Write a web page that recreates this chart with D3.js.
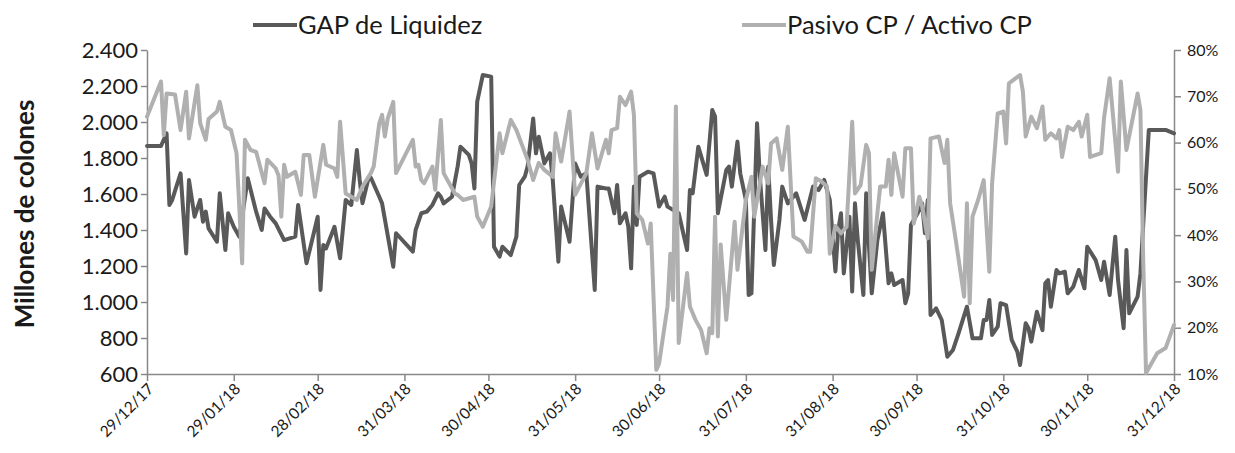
<!DOCTYPE html>
<html><head><meta charset="utf-8">
<script src="https://cdn.jsdelivr.net/npm/d3@7"></script>
<style>body{margin:0;background:#fff} svg{display:block}</style>
</head><body>
<svg id="chart" width="1235" height="453"></svg>
<script>
// ---------- DATA ----------
const startDate = "2017-12-29";
const tickDates = ["2017-12-29","2018-01-29","2018-02-28","2018-03-31","2018-04-30","2018-05-31",
  "2018-06-30","2018-07-31","2018-08-31","2018-09-30","2018-10-31","2018-11-30","2018-12-31"];
const leftTicks = [600,800,1000,1200,1400,1600,1800,2000,2200,2400];
const rightTicks = [10,20,30,40,50,60,70,80];
const seriesNames = ["GAP de Liquidez","Pasivo CP / Activo CP"];
const yTitle = "Millones de colones";

// [days since startDate, millones de colones]
const gapData = [[0,1867],[5,1867],[7,1937],[8,1539],[9,1567],[12,1715],[14,1270],[15,1678],[17,1474],[19,1567],
[20,1446],[21,1502],[22,1409],[25,1335],[26,1604],[28,1289],[29,1493],[31,1418],[33,1363],[36,1687],[39,1502],
[41,1400],[42,1520],[44,1474],[46,1437],[49,1344],[53,1363],[54,1539],[57,1215],[61,1474],[62,1067],[63,1317],
[64,1298],[67,1418],[69,1243],[71,1567],[73,1539],[75,1844],[76,1678],[77,1548],[79,1678],[80,1690],[83,1585],
[84,1548],[88,1196],[89,1382],[95,1280],[96,1400],[98,1493],[100,1502],[102,1539],[104,1604],[105,1585],[106,1548],
[109,1585],[111,1752],[112,1863],[115,1817],[116,1770],[117,1631],[118,2113],[120,2261],[123,2252],[124,1307],
[126,1252],[127,1307],[130,1261],[132,1363],[133,1650],[135,1696],[136,1752],[138,2020],[139,1826],[140,1918],
[142,1770],[144,1826],[145,1678],[147,1224],[148,1530],[151,1335],[153,1770],[155,1696],[157,1715],[160,1067],
[161,1641],[164,1631],[165,1631],[167,1493],[168,1650],[169,1437],[171,1493],[172,1418],[173,1187],[174,1641],
[175,1428],[176,1696],[179,1724],[181,1715],[183,1530],[185,1585],[186,1530],[190,1493],[193,1289],[194,1622],
[195,1604],[197,1863],[200,1706],[202,2067],[203,2030],[204,1493],[207,1733],[208,1752],[209,1641],[211,1891],
[212,1715],[214,1567],[215,1039],[216,1048],[218,1993],[219,1696],[221,1289],[222,1752],[223,1456],[224,1206],
[226,1456],[227,1641],[229,1548],[232,1604],[235,1456],[238,1641],[240,1622],[242,1678],[244,1567],[246,1170],
[247,1400],[248,1493],[249,1159],[251,1474],[252,1058],[253,1548],[254,1344],[256,1039],[257,1604],[258,1307],
[259,1048],[261,1344],[263,1493],[265,1104],[266,1159],[267,1094],[270,1122],[271,993],[272,1048],[273,1428],
[276,1511],[277,1548],[278,1382],[279,1567],[280,928],[282,965],[284,900],[286,696],[288,733],[290,826],[293,974],
[295,798],[298,798],[299,900],[300,900],[301,1011],[302,817],[304,863],[305,993],[307,983],[309,789],[311,724],
[312,650],[314,882],[315,854],[316,780],[318,946],[320,844],[321,1104],[322,1122],[323,974],[325,1178],[326,1159],
[328,1168],[329,1048],[331,1085],[333,1178],[335,1076],[336,1307],[339,1233],[341,1122],[342,1224],[344,1039],
[346,1363],[347,1122],[349,854],[350,1289],[351,937],[354,1030],[355,1159],[356,1430],[358,1956],[364,1956],[367,1937]];

// [days since startDate, Pasivo CP / Activo CP in %]
const ratioData = [[0,65.6],[5,73.2],[6,61.6],[7,70.6],[10,70.4],[12,62.7],[14,71],[15,60.9],[18,72.4],[19,64.2],
[21,60.6],[22,65.1],[25,66.7],[26,68.8],[28,63.4],[30,62.7],[32,57.7],[34,33.9],[35,60.6],[37,58.4],[39,58],
[42,51.2],[43,56.3],[46,54.4],[47,52.9],[48,44],[49,55.2],[50,52.6],[53,53.7],[55,48.7],[56,57.3],[58,57.3],
[60,48.3],[63,59.5],[64,55.2],[67,54.4],[68,52.6],[69,64.5],[71,49],[73,48.3],[75,47.6],[77,50.5],[80,53.4],
[81,54.8],[83,64.2],[84,66],[85,61.3],[86,65.1],[88,68.8],[89,53.4],[95,60.6],[96,54.8],[97,55.2],[98,51.9],
[99,51.2],[102,54.8],[103,49.8],[105,64.9],[106,53.4],[110,49],[111,48.7],[113,47.6],[117,48.3],[118,44],
[120,41.8],[123,46.2],[126,62],[127,57.7],[130,64.9],[132,62.7],[134,59.5],[136,56.3],[138,51.9],[140,55.6],
[142,54.1],[145,52.6],[146,62],[148,55.9],[151,66.7],[153,48.7],[157,53.4],[159,62],[161,54.4],[164,60.6],
[165,57.7],[166,62.7],[168,63.1],[169,69.9],[171,68.1],[173,71],[174,66],[175,44.7],[177,43.3],[179,38.2],
[180,42.5],[182,10.9],[183,12.3],[186,24.6],[187,36],[188,26],[189,67.8],[190,16.7],[193,31.8],[194,24.6],
[196,21.7],[198,19.5],[200,14.5],[201,19.9],[202,18.8],[203,44],[204,18.1],[205,38],[207,21.7],[210,42.9],
[211,32.5],[214,47.6],[216,52.6],[217,44],[220,54.8],[222,51.2],[223,59.8],[225,60.9],[227,54.1],[229,63.4],
[231,39.7],[234,38.6],[236,36.4],[237,36.4],[239,52.3],[241,51.6],[243,50.5],[244,36],[246,42],[248,40.4],
[250,41.8],[252,64.5],[253,49],[255,50.8],[257,59.5],[258,57.7],[259,32.5],[261,44.7],[262,50.5],[264,50.5],
[265,56.3],[266,48.7],[267,57.7],[270,48.3],[271,58.8],[273,58.8],[274,42.5],[276,48.3],[277,46.2],[279,39.3],
[280,60.9],[283,61.3],[285,55.6],[286,60.6],[287,46.9],[289,39],[292,26.7],[293,46.9],[294,25.3],[295,44],
[297,47.6],[299,51.9],[301,32.1],[302,51.2],[304,66.3],[306,66.7],[307,59.8],[308,72.8],[312,74.6],[313,71],
[314,61.3],[316,65.6],[318,63.1],[320,67.8],[321,60.6],[323,62],[325,60.9],[326,62.7],[327,56.9],[329,63.4],
[331,62.7],[333,64.5],[334,61.3],[336,66],[337,56.9],[341,57.7],[342,65.3],[344,73.9],[347,53.7],[348,73.2],
[350,58.4],[354,70.6],[355,67],[356,34.6],[357,10.2],[361,14.5],[364,15.6],[367,20.6]];

// ---------- CHART ----------
const colors = ["#595959", "#b0b0b0"];
const axisColor = "#888888";
const textColor = "#1a1a1a";
const font = "Lato, 'Liberation Sans', sans-serif";

const margin = {left:147, right:1174, top:50, bottom:374};
const svg = d3.select("#chart");

const parseDay = d3.utcParse("%Y-%m-%d");
const t0 = parseDay(startDate);
const dateOf = d => d3.utcDay.offset(t0, d);

const x = d3.scaleUtc()
  .domain([t0, parseDay(tickDates[tickDates.length-1])])
  .range([margin.left, margin.right]);
const yL = d3.scaleLinear().domain([600, 2400]).range([margin.bottom, margin.top]);
const yR = d3.scaleLinear().domain([10, 80]).range([margin.bottom, margin.top]);

const loc = d3.formatLocale({decimal:",", thousands:".", grouping:[3], currency:["",""]});
const fmtL = loc.format(",d");

// left axis
const gL = svg.append("g").attr("transform", `translate(${margin.left},0)`)
  .call(d3.axisLeft(yL).tickValues(leftTicks).tickFormat(fmtL).tickSize(6).tickPadding(3).tickSizeOuter(0));
gL.selectAll("text").attr("font-family", font).attr("font-size", 22).attr("fill", textColor);

// right axis
const gR = svg.append("g").attr("transform", `translate(${margin.right},0)`)
  .call(d3.axisRight(yR).tickValues(rightTicks).tickFormat(d => d + "%").tickSize(7).tickPadding(6).tickSizeOuter(0));
gR.selectAll("text").attr("font-family", font).attr("font-size", 16).attr("fill", textColor);

// bottom axis
const gB = svg.append("g").attr("transform", `translate(0,${margin.bottom})`)
  .call(d3.axisBottom(x).tickValues(tickDates.map(parseDay)).tickFormat(d3.utcFormat("%d/%m/%y")).tickSize(7).tickSizeOuter(0));
gB.selectAll("text")
  .attr("font-family", font).attr("font-size", 15.5).attr("fill", textColor)
  .attr("text-anchor", "end").attr("dy", null).attr("y", null)
  .attr("transform", "translate(7,16) rotate(-45)");

[gL, gR, gB].forEach(g => {
  g.selectAll(".domain").attr("stroke", axisColor).attr("stroke-width", 1.5);
  g.selectAll(".tick line").attr("stroke", axisColor).attr("stroke-width", 1.5);
});

// lines
const lineL = d3.line().x(d => x(dateOf(d[0]))).y(d => yL(d[1]));
const lineR = d3.line().x(d => x(dateOf(d[0]))).y(d => yR(d[1]));

svg.append("path").datum(gapData).attr("d", lineL)
  .attr("fill", "none").attr("stroke", colors[0]).attr("stroke-width", 4)
  .attr("stroke-linejoin", "round").attr("stroke-linecap", "round");
svg.append("path").datum(ratioData).attr("d", lineR)
  .attr("fill", "none").attr("stroke", colors[1]).attr("stroke-width", 4)
  .attr("stroke-linejoin", "round").attr("stroke-linecap", "round");

// y title
svg.append("text")
  .attr("transform", "translate(34,214) rotate(-90)")
  .attr("text-anchor", "middle")
  .attr("font-family", font).attr("font-size", 26).attr("font-weight", "bold")
  .attr("fill", textColor).text(yTitle);

// legend
const legendPos = [253, 742];
seriesNames.forEach((name, i) => {
  const g = svg.append("g").attr("transform", `translate(${legendPos[i]},25)`);
  g.append("line").attr("x1", 0).attr("x2", 44).attr("y1", 0).attr("y2", 0)
    .attr("stroke", colors[i]).attr("stroke-width", 4);
  g.append("text").attr("x", 45).attr("y", 9)
    .attr("font-family", font).attr("font-size", 25.5).attr("fill", textColor).text(name);
});
</script>
</body></html>
